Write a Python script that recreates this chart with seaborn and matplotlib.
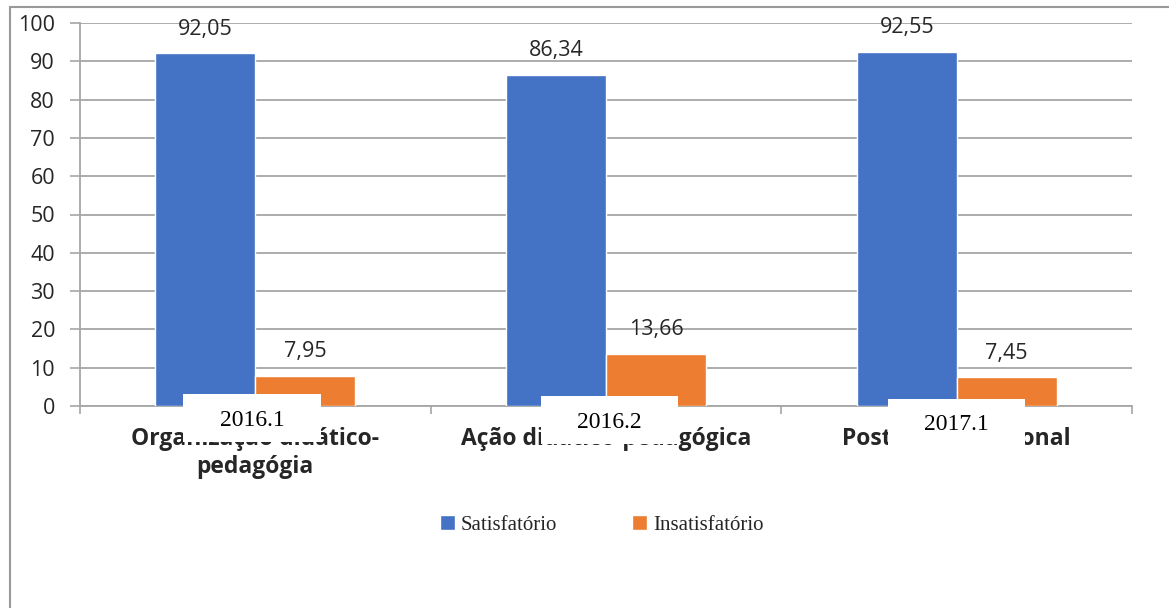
import pandas as pd
import matplotlib.pyplot as plt
import seaborn as sns
from matplotlib.patches import Rectangle
from matplotlib.lines import Line2D

# data
categorias = ["Organização didático-\npedagógia", "Ação didático-pedagógica", "Postura profissional"]
satisfatorio = [92.05, 86.34, 92.55]
insatisfatorio = [7.95, 13.66, 7.45]
series = ["Satisfatório", "Insatisfatório"]
periodos = ["2016.1", "2016.2", "2017.1"]
y_ticks = [0, 10, 20, 30, 40, 50, 60, 70, 80, 90, 100]

df = pd.DataFrame({
    "categoria": categorias * 2,
    "valor": satisfatorio + insatisfatorio,
    "serie": [series[0]] * 3 + [series[1]] * 3,
})

sns.set_style("white")
plt.rcParams["font.family"] = ["Open Sans", "DejaVu Sans"]

W, H = 1169, 608
fig = plt.figure(figsize=(W / 100, H / 100), dpi=100)
ax = fig.add_axes([80 / W, 1 - 406 / H, (1132 - 80) / W, (406 - 23) / H])

sns.barplot(data=df, x="categoria", y="valor", hue="serie",
            palette=["#4472C4", "#ED7D31"], width=0.57, saturation=1,
            ax=ax, zorder=3)

ax.set_ylim(0, 100)
ax.set_xlim(-0.5, 2.5)
ax.set_yticks(y_ticks)
ax.tick_params(axis="y", labelsize=15.5, length=7, width=1.2, color="#A6A6A6",
               pad=11, left=True, labelcolor="#262626")
ax.yaxis.grid(True, color="#A6A6A6", linewidth=1.3, zorder=0)
ax.set_axisbelow(True)

# category labels (no tick marks), boundary ticks as minor ticks
ax.set_xticks(range(3))
ax.set_xticklabels(categorias, fontsize=16.5, fontweight="bold", linespacing=1.25,
                   color="#262626")
ax.tick_params(axis="x", length=0, pad=15)
ax.set_xticks([-0.5, 0.5, 1.5, 2.5], minor=True)
ax.tick_params(axis="x", which="minor", length=6, width=1.2, color="#A6A6A6",
               bottom=True)
ax.set_xlabel("")
ax.set_ylabel("")

for s in ["top", "right"]:
    ax.spines[s].set_visible(False)
for s in ["left", "bottom"]:
    ax.spines[s].set_color("#A6A6A6")
    ax.spines[s].set_linewidth(1.3)

# value labels with comma decimals
for cont, vals in zip(ax.containers, [satisfatorio, insatisfatorio]):
    ax.bar_label(cont, labels=[f"{v:.2f}".replace(".", ",") for v in vals],
                 padding=10, fontsize=15.5, color="#262626")

# legend
ax.legend(loc="center", bbox_to_anchor=(602 / W, 1 - 525 / H),
          bbox_transform=fig.transFigure, ncol=2, frameon=False,
          prop={"family": "Liberation Serif", "size": 15},
          handlelength=0.7, handleheight=0.7, handletextpad=0.3,
          columnspacing=3.6)

# white boxes with period labels on top of the category labels
boxes = [(183, 394, 321, 442), (541, 396, 678, 444), (888, 399, 1025, 456)]
for (x0, y0, x1, y1), p in zip(boxes, periodos):
    fig.add_artist(Rectangle((x0 / W, 1 - y1 / H), (x1 - x0) / W, (y1 - y0) / H,
                             transform=fig.transFigure, facecolor="white",
                             edgecolor="none", zorder=5))
    fig.text((x0 + x1) / 2 / W, 1 - (y0 + 26) / H, p, ha="center", va="center",
             fontsize=17, family="Liberation Serif", color="black", zorder=6)

# outer frame (top and left edges)
fig.add_artist(Line2D([10 / W, 1], [1 - 7 / H, 1 - 7 / H], transform=fig.transFigure,
                      color="#999999", linewidth=1.5))
fig.add_artist(Line2D([10 / W, 10 / W], [0, 1 - 7 / H], transform=fig.transFigure,
                      color="#999999", linewidth=1.5))

fig.savefig("out.png", dpi=100)
